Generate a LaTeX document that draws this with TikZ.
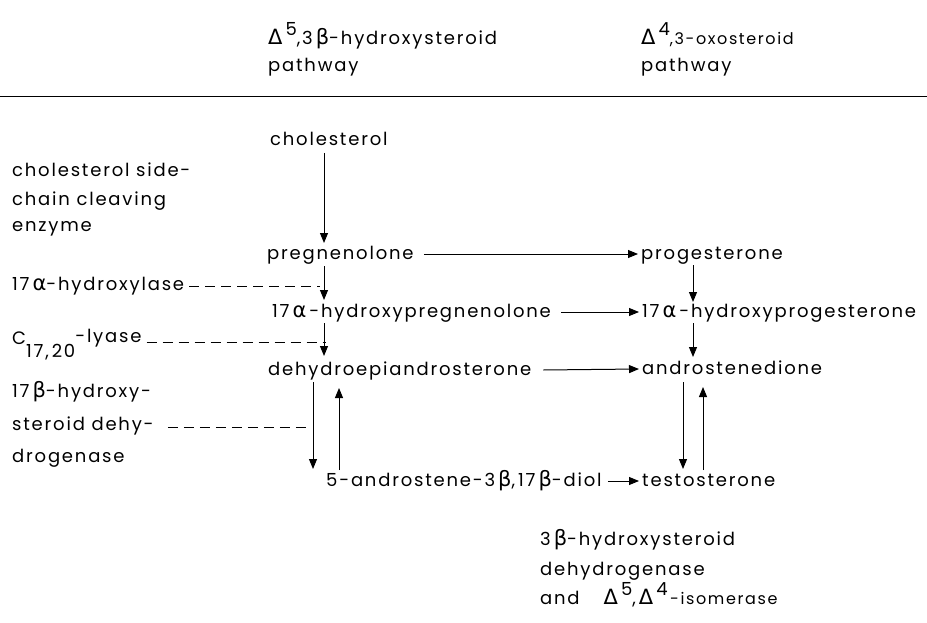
\documentclass[tikz,border=0pt]{standalone}
\usepackage{fontspec}
\setmainfont{Poppins}[LetterSpace=10]
\newfontfamily\gk{DejaVu Sans}
\usetikzlibrary{arrows.meta}
\newcommand{\al}{{\gk\fontsize{21}{21}\selectfont α}}
\newcommand{\bt}{{\gk\fontsize{21}{21}\selectfont β}}
\newcommand{\Dl}{{\gk\fontsize{21}{21}\selectfont Δ}}
\newcommand{\up}[1]{\raisebox{9pt}{#1}}
\begin{document}
\begin{tikzpicture}[x=1pt,y=-1pt,
  lbl/.style={anchor=base west, inner sep=0pt, font=\fontsize{18}{21}\selectfont},
  arr/.style={-{Triangle[length=10pt,width=8pt]}, line width=1pt},
  dsh/.style={line width=1pt, dash pattern=on 10pt off 6pt}]
\useasboundingbox (0,0) rectangle (927,623);
% headers
\node[lbl] (h1) at (268,45) {\Dl\,\up{5},3\,\bt-hydroxysteroid};
\node[lbl] (h1b) at (268,72) {pathway};
\node[lbl] (h2) at (641,45) {\Dl\,\up{4}{\fontsize{16}{18}\selectfont,3-oxosteroid}};
\node[lbl] (h2b) at (641,72) {pathway};
\coordinate (r1) at (0,97);
\coordinate (r2) at (927,97);
\draw[line width=1pt] (r1) -- (r2);
% left enzyme labels
\node[lbl] (cs1) at (12,177) {cholesterol side-};
\node[lbl] (cs2) at (12,205) {chain cleaving};
\node[lbl] (cs3) at (12,231) {enzyme};
\node[lbl] (hyl) at (12,290) {17\,\al-hydroxylase};
\node[lbl] (lyc) at (12,344) {C\raisebox{-13pt}{17,\,20}\raisebox{2pt}{-lyase}};
\node[lbl] (b1) at (12,397) {17\,\bt-hydroxy-};
\node[lbl] (b2) at (12,430) {steroid dehy-};
\node[lbl] (b3) at (12,462) {drogenase};
% compounds
\node[lbl] (chol) at (270,146) {cholesterol};
\node[lbl] (preg) at (267,259) {pregnenolone};
\node[lbl] (prog) at (641,259) {progesterone};
\node[lbl] (hpreg) at (272,317) {17\,\al\,-hydroxypregnenolone};
\node[lbl] (hprog) at (642,317) {17\,\al\,-hydroxyprogesterone};
\node[lbl] (dhea) at (268,375) {dehydroepiandrosterone};
\node[lbl] (andro) at (642,374) {androstenedione};
\node[lbl] (diol) at (326,486) {5-androstene-3\,\bt,\,17\,\bt-diol};
\node[lbl] (testo) at (642,486) {testosterone};
% bottom enzyme
\node[lbl] (e1) at (540,545) {3\,\bt-hydroxysteroid};
\node[lbl] (e2) at (540,575) {dehydrogenase};
\node[lbl] (e3) at (540,604) {and\hspace{24pt}\Dl\,\up{5},\,\Dl\,\up{4}{\fontsize{16}{18}\selectfont\,-isomerase}};
% column coordinates
\coordinate (cl) at (324,0);
\coordinate (cr) at (693,0);
\coordinate (dl1) at (313,0);
\coordinate (dl2) at (339,0);
\coordinate (dr1) at (683,0);
\coordinate (dr2) at (703,0);
% vertical arrows
\draw[arr] ([yshift=-7pt]chol.base -| cl) -- ([yshift=16pt]preg.base -| cl);
\draw[arr] ([yshift=-7pt]preg.base -| cl) -- ([yshift=17pt]hpreg.base -| cl);
\draw[arr] ([yshift=-6pt]hpreg.base -| cl) -- ([yshift=19pt]dhea.base -| cl);
\draw[arr] ([yshift=-6pt]prog.base -| cr) -- ([yshift=15pt]hprog.base -| cr);
\draw[arr] ([yshift=-6pt]hprog.base -| cr) -- ([yshift=17pt]andro.base -| cr);
\draw[arr] ([yshift=-7pt]dhea.base -| dl1) -- ([yshift=17pt]diol.base -| dl1);
\draw[arr] ([yshift=16pt]diol.base -| dl2) -- ([yshift=-13pt]dhea.base -| dl2);
\draw[arr] ([yshift=-8pt]andro.base -| dr1) -- ([yshift=17pt]testo.base -| dr1);
\draw[arr] ([yshift=16pt]testo.base -| dr2) -- ([yshift=-13pt]andro.base -| dr2);
% horizontal arrows
\draw[arr] ([xshift=10pt,yshift=5pt]preg.base east) -- ([xshift=-3pt,yshift=5pt]prog.base west);
\draw[arr] ([xshift=10pt,yshift=5pt]hpreg.base east) -- ([xshift=-3pt,yshift=5pt]hprog.base west);
\draw[arr] ([xshift=12pt,yshift=5pt]dhea.base east) -- ([xshift=-3pt,yshift=5pt]andro.base west);
\draw[arr] ([xshift=6pt,yshift=5pt]diol.base east) -- ([xshift=-3pt,yshift=5pt]testo.base west);
% dashed enzyme connectors
\coordinate (t1) at (320,286);
\coordinate (t2) at (326,342);
\coordinate (t3) at (307,427);
\draw[dsh] ([xshift=5pt]hyl.base east |- t1) -- (t1);
\draw[dsh] ([xshift=5pt]lyc.base east |- t2) -- (t2);
\draw[dsh] ([xshift=14pt]b2.base east |- t3) -- (t3);
\end{tikzpicture}
\end{document}
